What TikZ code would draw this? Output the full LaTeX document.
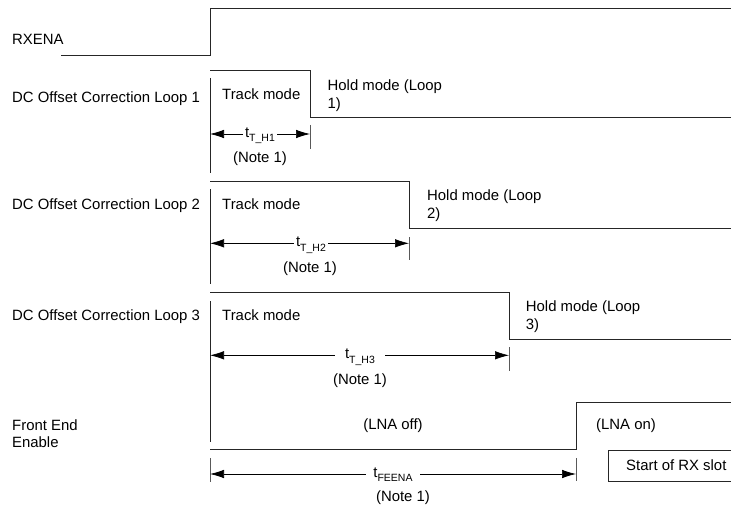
\documentclass[tikz,border=0pt]{standalone}
\usepackage{fontspec}
\setmainfont{Liberation Sans}
\usetikzlibrary{arrows.meta}
\begin{document}
\begin{tikzpicture}[x=1pt,y=-1pt,
  sig/.style={line width=0.9pt, draw=black!85, line join=miter},
  guide/.style={line width=0.8pt, draw=black!85},
  tickline/.style={line width=0.6pt, draw=black!65},
  dimarrow/.style={line width=0.7pt, draw=black, {Latex[length=14pt,width=8.5pt]}-{Latex[length=14pt,width=8.5pt]}},
  txt/.style={inner sep=0pt, font=\fontsize{14.9}{17.4}\selectfont, align=left},
  tlabel/.style={anchor=base, fill=white, inner ysep=1pt, font=\fontsize{14.9}{17.4}\selectfont},
  notelbl/.style={anchor=base, inner sep=0pt, font=\fontsize{14.9}{17.4}\selectfont},
]
\newcommand{\tsub}[1]{t\raisebox{-0.55ex}{\fontsize{10.5}{11}\selectfont #1}}
\useasboundingbox (0,0) rectangle (731,508);

% ---------- RXENA ----------
\node[txt, anchor=base west] (lrx) at (12,44.3) {RXENA};
\coordinate (rx0) at (61,55);
\coordinate (rx1) at (210.5,55);
\coordinate (rx2) at (210.5,8);
\coordinate (rx3) at (731,8);
\draw[sig] (rx0) -- (rx1) -- (rx2) -- (rx3);

% ---------- Loop 1 ----------
\node[txt, anchor=base west] (l1) at (12,102.7) {DC Offset Correction Loop 1};
\coordinate (a0) at (210,70.7);
\coordinate (a1) at (310,70.7);
\coordinate (a2) at (310,117.3);
\coordinate (a3) at (731,117.3);
\draw[sig] (a0) -- (a1) -- (a2) -- (a3);
\node[txt, anchor=base west] (tm1) at (222,99.3) {Track mode};
\node[txt, anchor=base west] (hm1) at (327.5,108.1) {Hold mode (Loop\\1)};
\coordinate (g1a) at (210,78);
\coordinate (g1b) at (210,173);
\draw[guide] (g1a) -- (g1b);
\coordinate (k1a) at (310,125);
\coordinate (k1b) at (310,149);
\draw[tickline] (k1a) -- (k1b);
\coordinate (d1a) at (210,134);
\coordinate (d1b) at (310,134);
\draw[dimarrow] (d1a) -- (d1b);
\node[tlabel, inner xsep=2pt] (t1) at (260,137.5) {\tsub{T\_H1}};
\node[notelbl] (n1) at (260,163) {(Note 1)};

% ---------- Loop 2 ----------
\node[txt, anchor=base west] (l2) at (12,209) {DC Offset Correction Loop 2};
\coordinate (b0) at (210,181.7);
\coordinate (b1) at (409,181.7);
\coordinate (b2) at (409,228.3);
\coordinate (b3) at (731,228.3);
\draw[sig] (b0) -- (b1) -- (b2) -- (b3);
\node[txt, anchor=base west] (tm2) at (222,209) {Track mode};
\node[txt, anchor=base west] (hm2) at (427,218.1) {Hold mode (Loop\\2)};
\coordinate (g2a) at (210,189);
\coordinate (g2b) at (210,284);
\draw[guide] (g2a) -- (g2b);
\coordinate (k2a) at (409,237);
\coordinate (k2b) at (409,260);
\draw[tickline] (k2a) -- (k2b);
\coordinate (d2a) at (210,243.3);
\coordinate (d2b) at (409,243.3);
\draw[dimarrow] (d2a) -- (d2b);
\node[tlabel, inner xsep=2pt] (t2) at (311,246.8) {\tsub{T\_H2}};
\node[notelbl] (n2) at (310,272) {(Note 1)};

% ---------- Loop 3 ----------
\node[txt, anchor=base west] (l3) at (12,320.5) {DC Offset Correction Loop 3};
\coordinate (c0) at (210,292.3);
\coordinate (c1) at (509,292.3);
\coordinate (c2) at (509,339);
\coordinate (c3) at (731,339);
\draw[sig] (c0) -- (c1) -- (c2) -- (c3);
\node[txt, anchor=base west] (tm3) at (222,320.5) {Track mode};
\node[txt, anchor=base west] (hm3) at (525.7,329.1) {Hold mode (Loop\\3)};
\coordinate (g3a) at (210,301);
\coordinate (g3b) at (210,442);
\draw[guide] (g3a) -- (g3b);
\coordinate (k3a) at (509,347);
\coordinate (k3b) at (509,371);
\draw[tickline] (k3a) -- (k3b);
\coordinate (d3a) at (210,355.3);
\coordinate (d3b) at (509,355.3);
\draw[dimarrow] (d3a) -- (d3b);
\node[tlabel, inner xsep=10pt] (t3) at (360,358.8) {\tsub{T\_H3}};
\node[notelbl] (n3) at (360,384) {(Note 1)};

% ---------- Front End Enable ----------
\node[txt, anchor=base west] (lfe) at (12,447.7) {Front End\\Enable};
\coordinate (e0) at (210,449.3);
\coordinate (e1) at (576,449.3);
\coordinate (e2) at (576,402.7);
\coordinate (e3) at (731,402.7);
\draw[sig] (e0) -- (e1) -- (e2) -- (e3);
\node[notelbl] (off) at (393,429) {(LNA off)};
\node[txt, anchor=base west] (on) at (596,429) {(LNA on)};
\coordinate (k4a) at (210,458);
\coordinate (k4b) at (210,482);
\draw[tickline] (k4a) -- (k4b);
\coordinate (k5a) at (576,458);
\coordinate (k5b) at (576,481);
\draw[tickline] (k5a) -- (k5b);
\coordinate (d4a) at (210,474);
\coordinate (d4b) at (576,474);
\draw[dimarrow] (d4a) -- (d4b);
\node[tlabel, inner xsep=7pt] (t4) at (393,477.3) {\tsub{FEENA}};
\node[notelbl] (n4) at (403,501.5) {(Note 1)};

% ---------- Start of RX slot ----------
\node[txt, anchor=base west] (rxs) at (626,470.5) {Start of RX slot};
\coordinate (s0) at (731,450);
\coordinate (s1) at (608.3,450);
\coordinate (s2) at (608.3,481);
\coordinate (s3) at (731,481);
\draw[sig] (s0) -- (s1) -- (s2) -- (s3);
\end{tikzpicture}
\end{document}
